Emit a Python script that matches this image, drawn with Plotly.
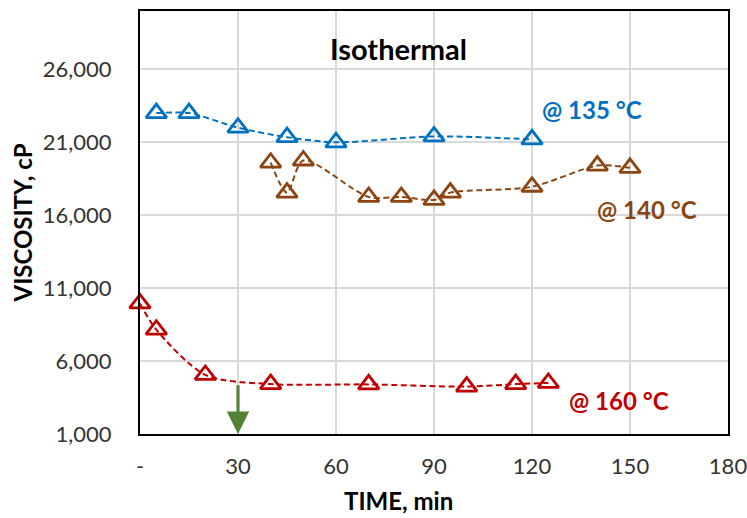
import plotly.graph_objects as go

# ---- data ----
t_135 = [5, 15, 30, 45, 60, 90, 120]
v_135 = [23000, 23000, 22000, 21350, 21000, 21400, 21200]

t_140 = [40, 45, 50, 70, 80, 90, 95, 120, 140, 150]
v_140 = [19600, 17550, 19750, 17250, 17250, 17050, 17550, 17950, 19400, 19250]

t_160 = [0, 5, 20, 40, 70, 100, 115, 125]
v_160 = [9950, 8150, 5050, 4420, 4400, 4250, 4420, 4500]

x_tickvals = [0, 30, 60, 90, 120, 150, 180]
x_ticktext = ["-", "30", "60", "90", "120", "150", "180"]
y_tickvals = [1000, 6000, 11000, 16000, 21000, 26000]

labels = ["@ 135 °C", "@ 140 °C", "@ 160 °C"]
label_pos_x = [122.6, 139.4, 130.8]
label_pos_y = [23250, 16400, 3330]

arrow_x = 30
arrow_from = 4450
arrow_to = 1000

BLUE = "#0070C0"
BROWN = "#8B4513"
RED = "#C00000"
GREEN = "#538135"
FONT = "Lato"

fig = go.Figure()

for t, v, c in [(t_135, v_135, BLUE), (t_140, v_140, BROWN), (t_160, v_160, RED)]:
    fig.add_trace(go.Scatter(
        x=t, y=v, mode="lines+markers",
        line=dict(color=c, width=2, dash="6px,3.5px", shape="spline", smoothing=0.8),
        marker=dict(symbol="triangle-up-open", size=18, color=c, line=dict(width=2.8, color=c)),
        showlegend=False, cliponaxis=False,
    ))

for txt, lx, ly, c in zip(labels, label_pos_x, label_pos_y, [BLUE, BROWN, RED]):
    fig.add_annotation(x=lx, y=ly, text=f"<b>{txt}</b>", showarrow=False,
                       xanchor="left", yanchor="middle",
                       font=dict(family=FONT, size=24, color=c))

fig.add_annotation(x=0.439, y=0.912, xref="paper", yref="paper", text="<b>Isothermal</b>",
                   showarrow=False, xanchor="center", yanchor="middle",
                   font=dict(family=FONT, size=29, color="black"))

# x-axis title (centred where the reference places it)
fig.add_annotation(x=0.439, y=0, xref="paper", yref="paper", text="<b>TIME, min</b>",
                   showarrow=False, xanchor="center", yanchor="middle", yshift=-66,
                   font=dict(family=FONT, size=24, color="black"))

fig.add_annotation(x=arrow_x, y=arrow_to, ax=arrow_x, ay=arrow_from,
                   xref="x", yref="y", axref="x", ayref="y",
                   showarrow=True, arrowhead=2, arrowsize=1.4, arrowwidth=3.2,
                   arrowcolor=GREEN, text="")

fig.update_layout(
    width=747, height=518,
    margin=dict(l=140, r=19, t=11, b=84, autoexpand=False),
    plot_bgcolor="white", paper_bgcolor="white",
    font=dict(family=FONT, size=22, color="#333333"),
)
fig.update_xaxes(
    range=[0, 180], tickvals=x_tickvals, ticktext=x_ticktext,
    showgrid=True, gridcolor="#D9D9D9", gridwidth=1.5,
    showline=True, linecolor="black", linewidth=2, mirror=True,
    ticks="", ticklabelstandoff=12, zeroline=False, ticklabeloverflow="allow",
    automargin=False,
)
fig.update_yaxes(
    range=[1000, 30000], tickvals=y_tickvals, tickformat=",d",
    showgrid=True, gridcolor="#D9D9D9", gridwidth=1.5,
    showline=True, linecolor="black", linewidth=2, mirror=True,
    ticks="", ticklabelstandoff=22, zeroline=False, ticklabeloverflow="allow",
    automargin=False,
    title=dict(text="<b>VISCOSITY, cP</b>", font=dict(family=FONT, size=24, color="black"), standoff=3),
)

fig.write_html("out.html")
